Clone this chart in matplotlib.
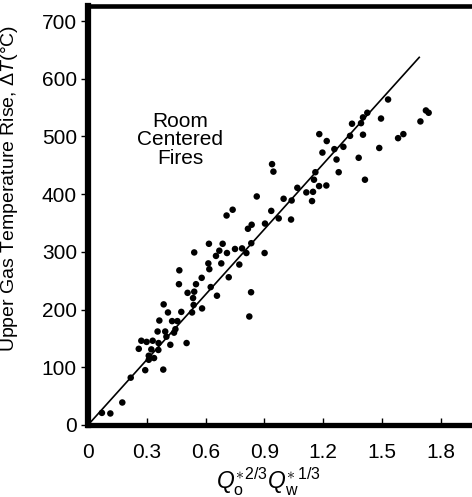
import matplotlib
matplotlib.use("Agg")
import matplotlib.pyplot as plt

plt.rcParams['font.family'] = ['Liberation Sans', 'DejaVu Sans']
plt.rcParams['mathtext.fontset'] = 'custom'
plt.rcParams['mathtext.rm'] = 'Liberation Sans'
plt.rcParams['mathtext.it'] = 'Liberation Sans:italic'

# Data
x_vals = [0.071, 0.114, 0.175, 0.218, 0.292, 0.384, 0.259, 0.272, 0.299, 0.330,
          0.323, 0.31, 0.31, 0.337, 0.359, 0.36, 0.355, 0.364, 0.386, 0.408,
          0.394, 0.40, 0.42, 0.429, 0.456, 0.439, 0.446, 0.476, 0.503, 0.508,
          0.542, 0.531, 0.539, 0.582, 0.536, 0.466, 0.464, 0.551, 0.58, 0.542,
          0.614, 0.619, 0.617, 0.626, 0.658, 0.653, 0.67, 0.687, 0.68, 0.709,
          0.718, 0.707, 0.738, 0.75, 0.772, 0.786, 0.808, 0.833, 0.816, 0.835,
          0.901, 0.903, 0.832, 0.823, 0.935, 0.861, 0.973, 1.036, 0.939, 0.946,
          0.998, 1.039, 1.068, 1.114, 1.148, 1.143, 1.153, 1.179, 1.216, 1.160,
          1.279, 1.268, 1.196, 1.218, 1.180, 1.257, 1.303, 1.337, 1.347, 1.381,
          1.403, 1.393, 1.403, 1.425, 1.413, 1.495, 1.486, 1.531, 1.582, 1.609,
          1.696, 1.724, 1.738]
y_vals = [21, 20, 39, 82, 95, 96, 132, 146, 144, 146,
          131, 120, 113, 116, 130, 142, 162, 181, 209, 195,
          162, 153, 139, 180, 180, 160, 166, 196, 142, 229,
          231, 195, 208, 202, 220, 268, 244, 244, 255, 299,
          280, 270, 314, 239, 224, 293, 302, 314, 280, 298,
          256, 363, 373, 305, 278, 306, 298, 315, 340, 347,
          298, 349, 230, 188, 371, 396, 358, 356, 452, 439,
          392, 389, 411, 403, 404, 388, 425, 414, 415, 438,
          438, 460, 472, 492, 504, 478, 482, 501, 522, 463,
          503, 523, 533, 541, 425, 531, 480, 564, 497, 504,
          526, 545, 541]

fit_x = [0.0, 1.69]
fit_y = [0.0, 637.0]

x_ticks = [0, 0.3, 0.6, 0.9, 1.2, 1.5, 1.8]
x_tick_labels = ['0', '0.3', '0.6', '0.9', '1.2', '1.5', '1.8']
y_ticks = [0, 100, 200, 300, 400, 500, 600, 700]
y_tick_labels = ['0', '100', '200', '300', '400', '500', '600', '700']

W, H = 472, 497
fig = plt.figure(figsize=(W / 100, H / 100), dpi=100)
left_px, bottom_px, top_px = 88, 425, 6
xmax, px_per_x = 2.0, 196.0
ax_h_px = bottom_px - top_px
ax = fig.add_axes([left_px / W, (H - bottom_px) / H,
                   xmax * px_per_x / W, ax_h_px / H])

ax.scatter(x_vals, y_vals, s=22, color='black', edgecolors='none', zorder=3)
ax.plot(fit_x, fit_y, color='black', lw=1.2, zorder=2)

ax.set_xlim(0, xmax)
ax.set_ylim(0, 726)
ax.set_xticks(x_ticks)
ax.set_xticklabels(x_tick_labels)
ax.set_yticks(y_ticks)
ax.set_yticklabels(y_tick_labels)

ax.tick_params(axis='x', direction='in', length=5, width=1, labelsize=15, pad=13)
ax.tick_params(axis='y', direction='out', length=5, width=1, labelsize=15, pad=3)

ax.spines['left'].set_linewidth(4.5)
ax.spines['bottom'].set_linewidth(3.8)
ax.spines['top'].set_linewidth(3.3)
ax.spines['right'].set_visible(False)

ax.set_ylabel(r'Upper Gas Temperature Rise, $\Delta\mathit{T}$(°C)', fontsize=14)
ax.yaxis.set_label_coords(-(left_px - 20) / (xmax * px_per_x), (bottom_px - 188) / ax_h_px)
ax.set_xlabel(r'$\mathit{Q}^{\ast}_{\mathrm{o}}{}^{2/3}\mathit{Q}^{\ast}_{\mathrm{w}}{}^{1/3}$',
              fontsize=16.5)
ax.xaxis.set_label_coords((268 - left_px) / (xmax * px_per_x), -(466 - bottom_px) / ax_h_px)

ax.text(0.47, 494, 'Room\nCentered\nFires', ha='center', va='center',
        fontsize=15, linespacing=0.95)

fig.savefig('out.png', dpi=100)
